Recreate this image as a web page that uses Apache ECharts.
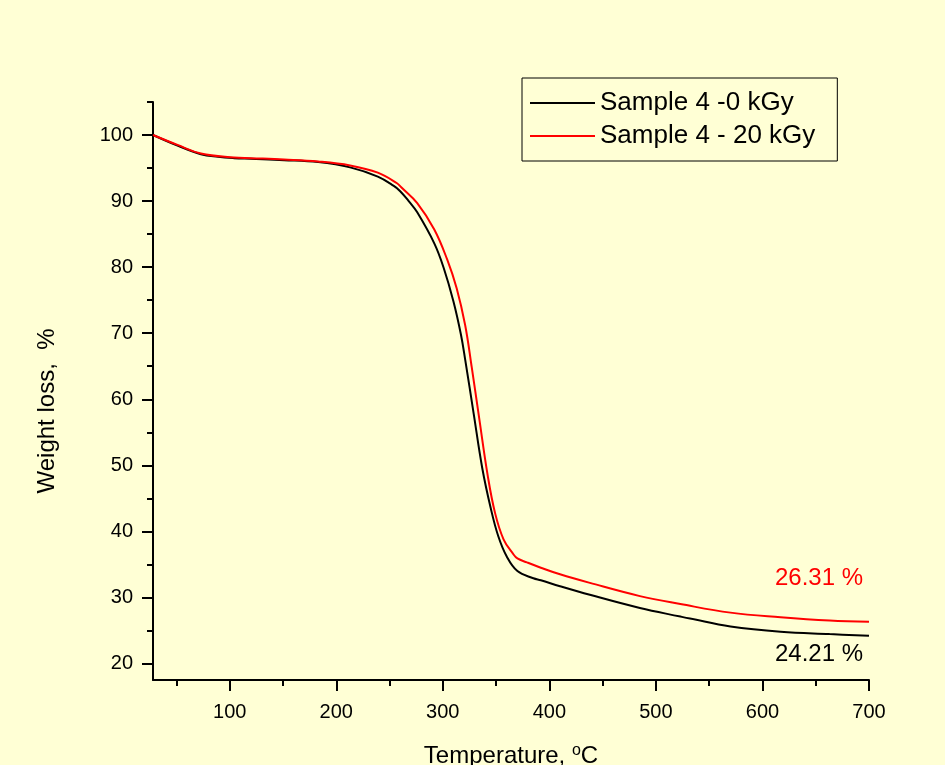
<!DOCTYPE html>
<html><head><meta charset="utf-8">
<script src="https://cdn.jsdelivr.net/npm/echarts@6/dist/echarts.min.js"></script>
<style>html,body{margin:0;padding:0;background:#FFFFD5}#c{width:945px;height:765px}</style>
</head><body><div id="c"></div>
<script>
const FONT = '"Liberation Sans", Arial, Helvetica, sans-serif';

// Data
const seriesNames = ['Sample 4 -0 kGy', 'Sample 4 - 20 kGy'];
const temp0 = [28,51,73,89,104,120,151,183,213,239,254,260,268,276,292,301,310,317,321,329,337,345,352,360,370,385,392,410,438,485,523,532,570,617,663,700];
const loss0 = [100,98.4,97.1,96.7,96.5,96.4,96.2,95.9,95.1,93.7,92.3,91.5,90.0,88.3,83.6,79.8,74.8,69.8,66.0,57.8,49.6,43.5,39.3,36.2,34.0,32.9,32.6,31.7,30.4,28.4,27.1,26.8,25.6,24.8,24.45,24.21];
const temp20 = [28,51,73,104,120,151,183,213,239,257,261,276,292,304,313,321,327,334,342,349,357,366,370,379,392,410,438,485,523,570,617,663,700];
const loss20 = [100,98.5,97.2,96.6,96.5,96.3,96.0,95.4,94.3,92.7,92.1,89.7,85.7,81.2,76.8,71.2,65.0,57.3,48.6,42.8,38.8,36.6,35.9,35.3,34.5,33.5,32.2,30.2,29.0,27.7,27.0,26.5,26.31];
const endLabels = ['24.21 %', '26.31 %'];

const xMajor = [100,200,300,400,500,600,700];
const xMinor = [50,150,250,350,450,550,650];
const yMajor = [20,30,40,50,60,70,80,90,100];
const yMinor = [25,35,45,55,65,75,85,95,105];
const xRange = [28, 700];
const yRange = [17.5, 105];

const zip = (a, b) => a.map((v, i) => [v, b[i]]);
const tickStyle = {color:'#000', width:2};

const chart = echarts.init(document.getElementById('c'), null, {renderer:'canvas'});
chart.setOption({
  backgroundColor: '#FFFFD5',
  animation: false,
  grid: {left:153, right:76, top:102, bottom:85, containLabel:false, outerBoundsMode:'none'},
  legend: {
    orient:'vertical', left:522, top:78, padding:[12,22,12,8],
    borderColor:'#000', borderWidth:1, itemWidth:65, itemHeight:2, itemGap:7,
    icon:'rect',
    textStyle:{fontSize:26, fontFamily:FONT, color:'#000', lineHeight:24},
    data: seriesNames
  },
  xAxis: [
    {type:'value', min:xRange[0], max:xRange[1],
     axisLine:{lineStyle:tickStyle},
     axisTick:{length:11, lineStyle:tickStyle, customValues:xMajor},
     axisLabel:{customValues:xMajor, fontSize:20, color:'#000', fontFamily:FONT, margin:22},
     splitLine:{show:false},
     name:'{a|Temperature, }{s|o}{a|C}', nameLocation:'middle', nameGap:63,
     nameTextStyle:{rich:{a:{fontSize:24, fontFamily:FONT, color:'#000', lineHeight:26}, s:{fontSize:16, fontFamily:FONT, color:'#000', verticalAlign:'top', lineHeight:26}}}
    },
    {type:'value', min:xRange[0], max:xRange[1], position:'bottom', offset:0,
     axisLine:{show:false}, axisTick:{length:6, lineStyle:tickStyle, customValues:xMinor},
     axisLabel:{show:false}, splitLine:{show:false}}
  ],
  yAxis: [
    {type:'value', min:yRange[0], max:yRange[1], position:'left',
     axisLine:{show:true, lineStyle:tickStyle},
     axisTick:{show:true, length:11, lineStyle:tickStyle, customValues:yMajor},
     axisLabel:{customValues:yMajor, fontSize:20, color:'#000', fontFamily:FONT, margin:20},
     splitLine:{show:false},
     name:'Weight loss,  %', nameLocation:'middle', nameGap:94,
     nameTextStyle:{fontSize:24, fontFamily:FONT, color:'#000', padding:[0,40,0,0]}
    },
    {type:'value', min:yRange[0], max:yRange[1], position:'left', offset:0,
     axisLine:{show:false}, axisTick:{show:true, length:6, lineStyle:tickStyle, customValues:yMinor},
     axisLabel:{show:false}, splitLine:{show:false}}
  ],
  series: [
    {name:seriesNames[0], type:'line', xAxisIndex:0, yAxisIndex:0, data:zip(temp0, loss0),
     symbol:'none', smooth:0.4, lineStyle:{color:'#000', width:2}, itemStyle:{color:'#000'},
     markPoint:{symbol:'circle', symbolSize:1, itemStyle:{color:'rgba(0,0,0,0)'}, silent:true,
       data:[{coord:[temp0[temp0.length-1], loss0[loss0.length-1]]}],
       label:{show:true, formatter:endLabels[0], position:'inside', align:'right', verticalAlign:'middle', offset:[-6,19], color:'#000', fontSize:24, fontFamily:FONT}}
    },
    {name:seriesNames[1], type:'line', xAxisIndex:0, yAxisIndex:0, data:zip(temp20, loss20),
     symbol:'none', smooth:0.4, lineStyle:{color:'#FF0000', width:2}, itemStyle:{color:'#FF0000'},
     markPoint:{symbol:'circle', symbolSize:1, itemStyle:{color:'rgba(0,0,0,0)'}, silent:true,
       data:[{coord:[temp20[temp20.length-1], loss20[loss20.length-1]]}],
       label:{show:true, formatter:endLabels[1], position:'inside', align:'right', verticalAlign:'middle', offset:[-6,-43], color:'#FF0000', fontSize:24, fontFamily:FONT}}
    }
  ]
});
</script>
</body></html>
